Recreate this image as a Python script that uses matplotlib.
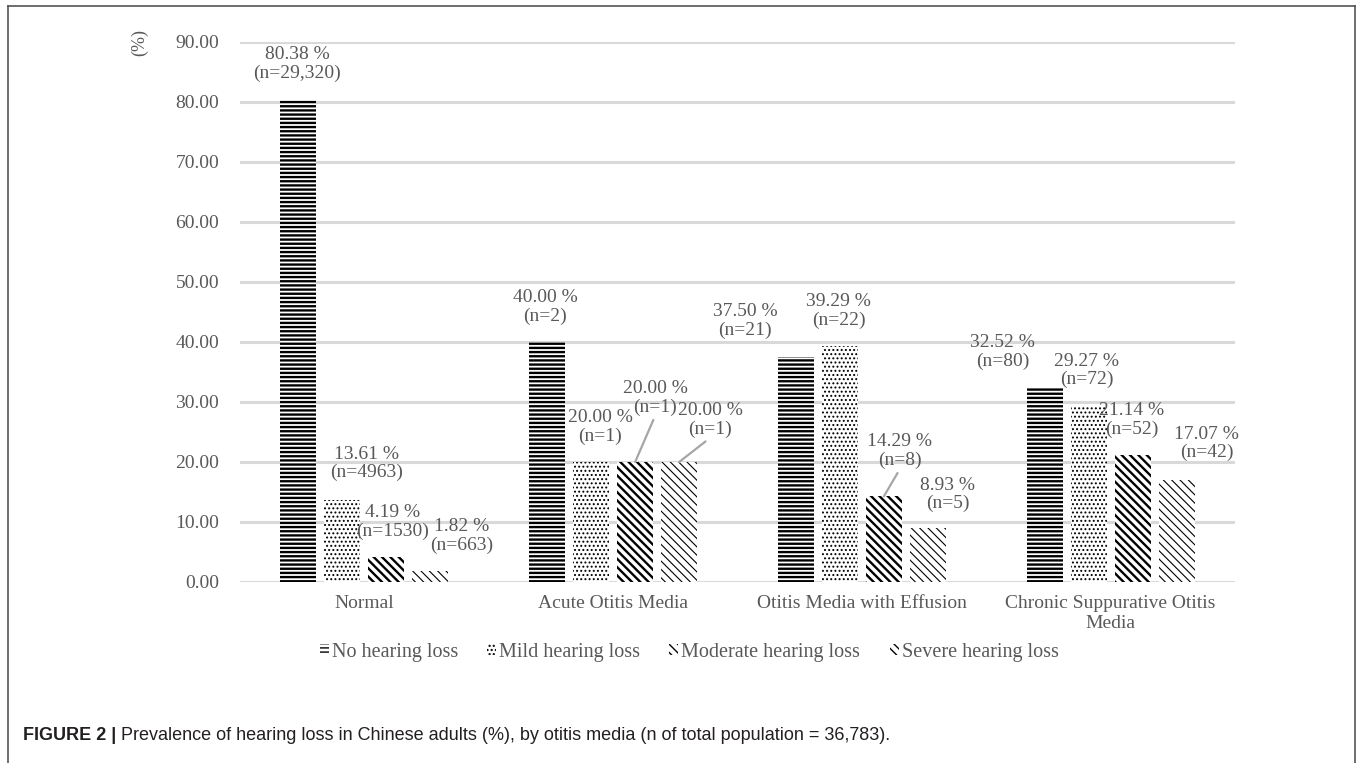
import matplotlib
matplotlib.use('Agg')
import numpy as np
import matplotlib.pyplot as plt
from matplotlib.lines import Line2D
from matplotlib.patches import Patch

# Data
categories = ['Normal', 'Acute Otitis Media', 'Otitis Media with Effusion',
              'Chronic Suppurative Otitis\nMedia']
series = ['No hearing loss', 'Mild hearing loss', 'Moderate hearing loss', 'Severe hearing loss']
no_loss = [80.38, 40.00, 37.50, 32.52]
mild_loss = [13.61, 20.00, 39.29, 29.27]
moderate_loss = [4.19, 20.00, 14.29, 21.14]
severe_loss = [1.82, 20.00, 8.93, 17.07]
n_no = ['29,320', '2', '21', '80']
n_mild = ['4963', '1', '22', '72']
n_moderate = ['1530', '1', '8', '52']
n_severe = ['663', '1', '5', '42']
yticks = [0, 10, 20, 30, 40, 50, 60, 70, 80, 90]

values = [no_loss, mild_loss, moderate_loss, severe_loss]
counts = [n_no, n_mild, n_moderate, n_severe]

# Label placement (pixel offsets from bar top centre) and leader lines
label_dx = [[-1, 24, 6, 31], [-2, 9, 20, 31], [-51, -1, 16, 20], [-42, -2, -1, 30]]
label_dy = [[36, 37, 35, 35], [35, 35, 64, 42], [36, 35, 45, 34], [35, 36, 35, 36]]
leader = [[False] * 4, [False, False, True, True], [False, False, True, False], [False] * 4]

# Styles
hatches = ['----', '....', '\\\\\\\\', '\\\\\\\\']
hatch_lw = [1.7, 0.9, 1.7, 0.8]
grey = '#595959'
serif = 'Liberation Serif'
fs = 14

fig = plt.figure(figsize=(13.57, 7.63), dpi=100)
ax = fig.add_axes([240 / 1357, 1 - 582 / 763, 995 / 1357, 540 / 763])

x = np.arange(len(categories))
width = 0.145
pitch = 0.177

for j in range(4):
    xs = x + (j - 1.5) * pitch
    bars = ax.bar(xs, values[j], width=width, color='white', edgecolor='black',
                  linewidth=0, hatch=hatches[j], zorder=3)
    for b in bars:
        b.set_hatch_linewidth(hatch_lw[j])
    for i in range(len(categories)):
        v = values[j][i]
        txt = f'{v:.2f} %\n(n={counts[j][i]})'
        kw = {}
        if leader[i][j]:
            kw['arrowprops'] = dict(arrowstyle='-', color='#a6a6a6', lw=1.6,
                                    relpos=(0.5, 0.0), shrinkA=1, shrinkB=0)
        ax.annotate(txt, xy=(xs[i], v), xytext=(label_dx[i][j], label_dy[i][j]),
                    textcoords='offset pixels', ha='center', va='center',
                    multialignment='center', fontsize=fs, color=grey,
                    family=serif, linespacing=1.1, zorder=4, **kw)

ax.set_xlim(-0.5, 3.5)
ax.set_ylim(0, 90)
ax.set_yticks(yticks)
ax.set_yticklabels([f'{t:.2f}' for t in yticks], family=serif, fontsize=fs, color=grey)
ax.set_xticks(x)
ax.set_xticklabels(categories, family=serif, fontsize=fs, color=grey, linespacing=1.3)
ax.tick_params(axis='y', length=0, pad=15)
ax.tick_params(axis='x', length=0, pad=9)
ax.grid(axis='y', color='#d9d9d9', linewidth=2.2, zorder=0)
for s in ax.spines.values():
    s.set_visible(False)

fig.text(140 / 1357, 1 - 42 / 763, '(%)', rotation=90, ha='center', va='center',
         family=serif, fontsize=13, color=grey)

# Legend
handles = [Patch(facecolor='white', edgecolor='black', linewidth=0, hatch=hatches[j])
           for j in range(4)]
for j, h in enumerate(handles):
    h.set_hatch_linewidth(hatch_lw[j])
leg = fig.legend(handles, series, loc='center', bbox_to_anchor=(689 / 1357, 1 - 652 / 763),
                 ncol=4, frameon=False, handlelength=0.45, handleheight=0.45,
                 handletextpad=0.15, columnspacing=1.45,
                 prop={'family': serif, 'size': 14.5})
for t in leg.get_texts():
    t.set_color(grey)

# Frame around the figure panel
fcol = '#555555'
fig.add_artist(Line2D([8 / 1357, 8 / 1357], [0, 1 - 6 / 763], color=fcol, lw=1.2))
fig.add_artist(Line2D([8 / 1357, 1355 / 1357], [1 - 6 / 763, 1 - 6 / 763], color=fcol, lw=1.2))
fig.add_artist(Line2D([1355 / 1357, 1355 / 1357], [0, 1 - 6 / 763], color=fcol, lw=1.2))

# Caption
cap_y = 1 - 736 / 763
cap = fig.text(23 / 1357, cap_y, 'FIGURE 2 |', family='Liberation Sans',
               fontweight='bold', fontsize=13, color='#231f20', va='center')
fig.canvas.draw()
bb = cap.get_window_extent()
fig.text((bb.x1 + 5) / 1357, cap_y,
         'Prevalence of hearing loss in Chinese adults (%), by otitis media '
         '(n of total population = 36,783).',
         family='Liberation Sans', fontsize=13, color='#231f20', va='center')

fig.savefig('out.png', dpi=100)
